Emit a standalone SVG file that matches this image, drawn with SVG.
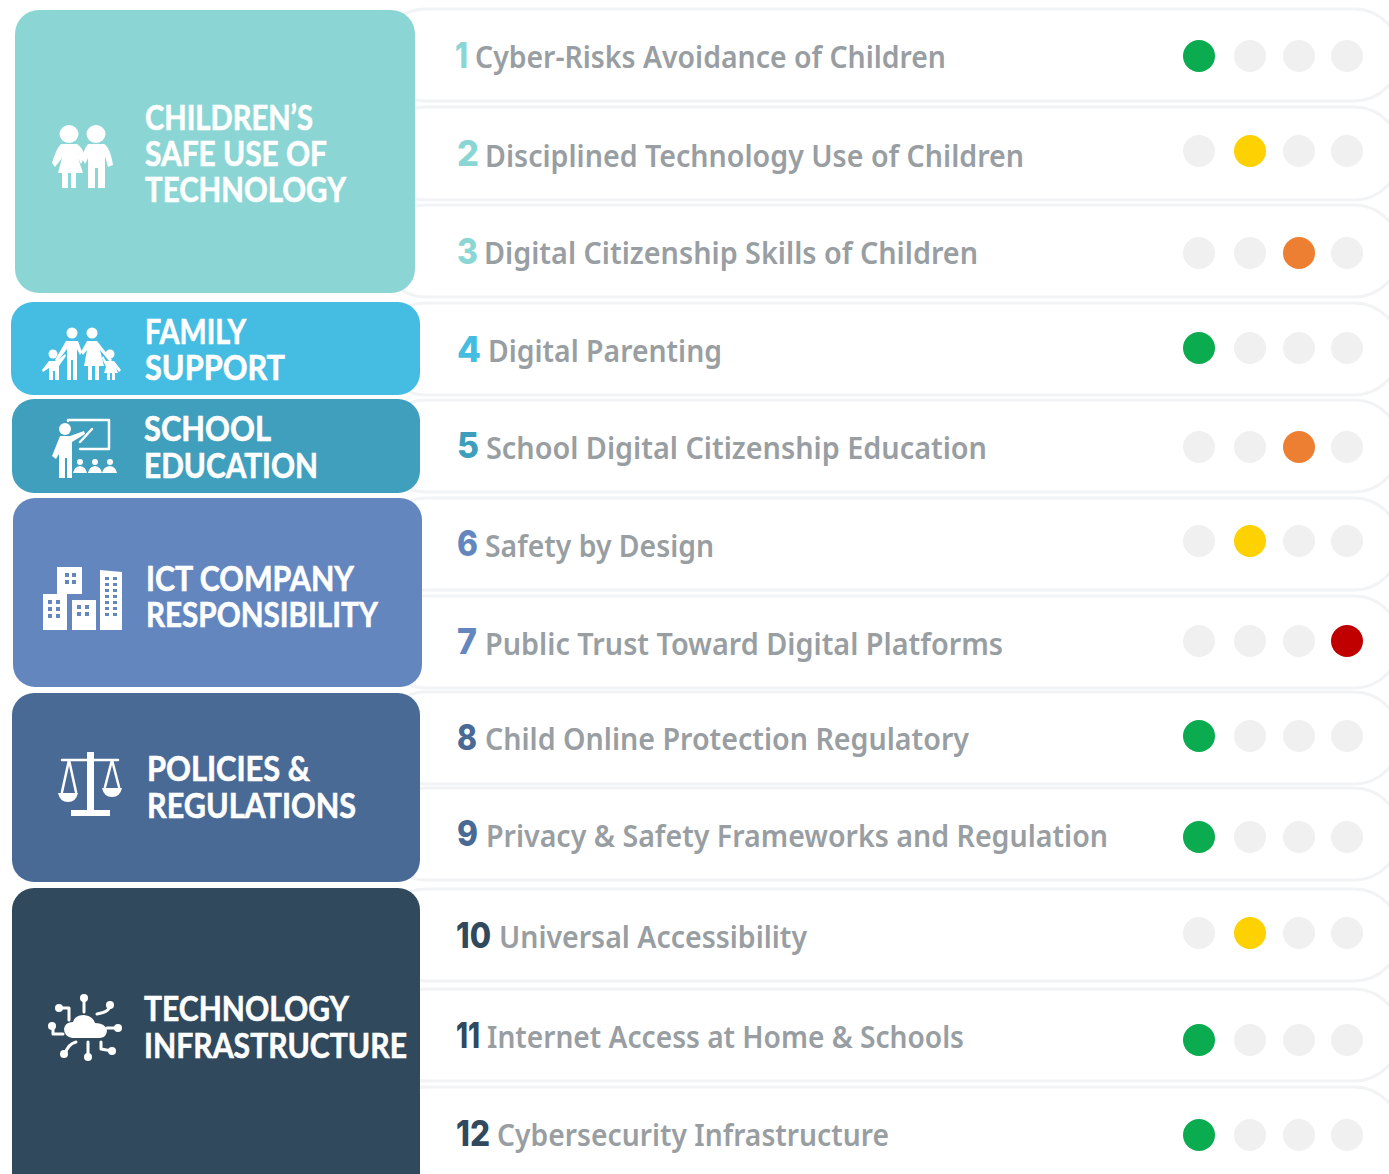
<svg xmlns="http://www.w3.org/2000/svg" width="1389" height="1174" viewBox="0 0 1389 1174">
<style>
.row{fill:#fff;stroke:#f2f3f5;stroke-width:3}
.t{font-family:"Noto Sans","Open Sans",sans-serif;font-size:30px;font-weight:600;fill:#989ea2}
.n{font-family:"Inter","Noto Sans",sans-serif;font-size:35px;font-weight:800}
.c{font-family:"Lato","Liberation Sans",sans-serif;font-size:34px;font-weight:700;fill:#fff;stroke:#fff;stroke-width:.6}
.i{fill:#fff}
.il{fill:none;stroke:#fff;stroke-linecap:round;stroke-linejoin:round}
.off{fill:#f0f0f0}.g{fill:#0bab50}.y{fill:#fed102}.o{fill:#ed7f33}.r{fill:#c00000}
</style>
<rect width="1389" height="1174" fill="#fff"/>
<g id="connectors"></g>
<g id="rows">
<rect class="row" x="380" y="9" width="1020" height="92" rx="46"/>
<rect class="row" x="380" y="107" width="1020" height="93" rx="46"/>
<rect class="row" x="380" y="205" width="1020" height="92" rx="46"/>
<rect class="row" x="380" y="303" width="1020" height="92" rx="46"/>
<rect class="row" x="380" y="400" width="1020" height="92" rx="46"/>
<rect class="row" x="380" y="498" width="1020" height="92" rx="46"/>
<rect class="row" x="380" y="596" width="1020" height="92" rx="46"/>
<rect class="row" x="380" y="692" width="1020" height="92" rx="46"/>
<rect class="row" x="380" y="788" width="1020" height="92" rx="46"/>
<rect class="row" x="380" y="889" width="1020" height="92" rx="46"/>
<rect class="row" x="380" y="989" width="1020" height="92" rx="46"/>
<rect class="row" x="380" y="1087" width="1020" height="130" rx="46"/>
</g>
<g id="item-1"><text class="n" x="455" y="68" fill="#8ad6d4" textLength="13" lengthAdjust="spacingAndGlyphs">1</text><text class="t" x="475" y="68" textLength="471" lengthAdjust="spacingAndGlyphs">Cyber-Risks Avoidance of Children</text><circle class="g" cx="1199" cy="56" r="16"/><circle class="off" cx="1250" cy="56" r="16"/><circle class="off" cx="1299" cy="56" r="16"/><circle class="off" cx="1347" cy="56" r="16"/></g>
<g id="item-2"><text class="n" x="457" y="166" fill="#8ad6d4" textLength="22" lengthAdjust="spacingAndGlyphs">2</text><text class="t" x="485" y="167" textLength="539" lengthAdjust="spacingAndGlyphs">Disciplined Technology Use of Children</text><circle class="off" cx="1199" cy="151" r="16"/><circle class="y" cx="1250" cy="151" r="16"/><circle class="off" cx="1299" cy="151" r="16"/><circle class="off" cx="1347" cy="151" r="16"/></g>
<g id="item-3"><text class="n" x="457" y="264" fill="#8ad6d4" textLength="21" lengthAdjust="spacingAndGlyphs">3</text><text class="t" x="484" y="264" textLength="494" lengthAdjust="spacingAndGlyphs">Digital Citizenship Skills of Children</text><circle class="off" cx="1199" cy="253" r="16"/><circle class="off" cx="1250" cy="253" r="16"/><circle class="o" cx="1299" cy="253" r="16"/><circle class="off" cx="1347" cy="253" r="16"/></g>
<g id="item-4"><text class="n" x="457" y="362" fill="#45bde0" textLength="24" lengthAdjust="spacingAndGlyphs">4</text><text class="t" x="488" y="362" textLength="234" lengthAdjust="spacingAndGlyphs">Digital Parenting</text><circle class="g" cx="1199" cy="348" r="16"/><circle class="off" cx="1250" cy="348" r="16"/><circle class="off" cx="1299" cy="348" r="16"/><circle class="off" cx="1347" cy="348" r="16"/></g>
<g id="item-5"><text class="n" x="457" y="458" fill="#3d9fbc" textLength="22" lengthAdjust="spacingAndGlyphs">5</text><text class="t" x="486" y="459" textLength="501" lengthAdjust="spacingAndGlyphs">School Digital Citizenship Education</text><circle class="off" cx="1199" cy="447" r="16"/><circle class="off" cx="1250" cy="447" r="16"/><circle class="o" cx="1299" cy="447" r="16"/><circle class="off" cx="1347" cy="447" r="16"/></g>
<g id="item-6"><text class="n" x="457" y="556" fill="#6486bf" textLength="21" lengthAdjust="spacingAndGlyphs">6</text><text class="t" x="485" y="557" textLength="229" lengthAdjust="spacingAndGlyphs">Safety by Design</text><circle class="off" cx="1199" cy="541" r="16"/><circle class="y" cx="1250" cy="541" r="16"/><circle class="off" cx="1299" cy="541" r="16"/><circle class="off" cx="1347" cy="541" r="16"/></g>
<g id="item-7"><text class="n" x="457" y="654" fill="#6486bf" textLength="20" lengthAdjust="spacingAndGlyphs">7</text><text class="t" x="485" y="655" textLength="518" lengthAdjust="spacingAndGlyphs">Public Trust Toward Digital Platforms</text><circle class="off" cx="1199" cy="641" r="16"/><circle class="off" cx="1250" cy="641" r="16"/><circle class="off" cx="1299" cy="641" r="16"/><circle class="r" cx="1347" cy="641" r="16"/></g>
<g id="item-8"><text class="n" x="457" y="750" fill="#4a6a96" textLength="20" lengthAdjust="spacingAndGlyphs">8</text><text class="t" x="485" y="750" textLength="484" lengthAdjust="spacingAndGlyphs">Child Online Protection Regulatory</text><circle class="g" cx="1199" cy="736" r="16"/><circle class="off" cx="1250" cy="736" r="16"/><circle class="off" cx="1299" cy="736" r="16"/><circle class="off" cx="1347" cy="736" r="16"/></g>
<g id="item-9"><text class="n" x="457" y="846" fill="#4a6a96" textLength="21" lengthAdjust="spacingAndGlyphs">9</text><text class="t" x="486" y="847" textLength="622" lengthAdjust="spacingAndGlyphs">Privacy &amp; Safety Frameworks and Regulation</text><circle class="g" cx="1199" cy="837" r="16"/><circle class="off" cx="1250" cy="837" r="16"/><circle class="off" cx="1299" cy="837" r="16"/><circle class="off" cx="1347" cy="837" r="16"/></g>
<g id="item-10"><text class="n" x="456" y="948" fill="#30495c" textLength="35" lengthAdjust="spacingAndGlyphs">10</text><text class="t" x="499" y="948" textLength="308" lengthAdjust="spacingAndGlyphs">Universal Accessibility</text><circle class="off" cx="1199" cy="933" r="16"/><circle class="y" cx="1250" cy="933" r="16"/><circle class="off" cx="1299" cy="933" r="16"/><circle class="off" cx="1347" cy="933" r="16"/></g>
<g id="item-11"><text class="n" x="456" y="1048" fill="#30495c" textLength="24" lengthAdjust="spacingAndGlyphs">11</text><text class="t" x="487" y="1048" textLength="477" lengthAdjust="spacingAndGlyphs">Internet Access at Home &amp; Schools</text><circle class="g" cx="1199" cy="1040" r="16"/><circle class="off" cx="1250" cy="1040" r="16"/><circle class="off" cx="1299" cy="1040" r="16"/><circle class="off" cx="1347" cy="1040" r="16"/></g>
<g id="item-12"><text class="n" x="456" y="1146" fill="#30495c" textLength="34" lengthAdjust="spacingAndGlyphs">12</text><text class="t" x="497" y="1146" textLength="392" lengthAdjust="spacingAndGlyphs">Cybersecurity Infrastructure</text><circle class="g" cx="1199" cy="1135" r="16"/><circle class="off" cx="1250" cy="1135" r="16"/><circle class="off" cx="1299" cy="1135" r="16"/><circle class="off" cx="1347" cy="1135" r="16"/></g>

<g id="cat-children"><rect x="15" y="10" width="400" height="283" rx="24" fill="#8bd6d4"/>
<ellipse class="i" cx="69" cy="134" rx="9.5" ry="9"/><ellipse class="i" cx="96" cy="134" rx="9.5" ry="9"/>
<path class="i" d="M61 144H77Q82 147 85 156L81 164 78 158 83 173H76V188H71V173H68V188H62V173H58L62 158 55 167 52 163Q56 149 61 144Z"/>
<path class="i" d="M88 144H104Q110 147 113 165L108 167 105 156V188H98V168H95V188H88V158L85 164 82 158Q84 149 88 144Z"/>
<text class="c" x="145" y="130" textLength="168" lengthAdjust="spacingAndGlyphs">CHILDREN’S</text><text class="c" x="145" y="166" textLength="182" lengthAdjust="spacingAndGlyphs">SAFE USE OF</text><text class="c" x="145" y="202" textLength="201" lengthAdjust="spacingAndGlyphs">TECHNOLOGY</text></g>

<g id="cat-family"><rect x="11" y="302" width="409" height="93" rx="22" fill="#45bde2"/>
<circle class="i" cx="72" cy="333" r="5.5"/><circle class="i" cx="92" cy="333" r="5.5"/><circle class="i" cx="53" cy="354" r="4.5"/><circle class="i" cx="110" cy="354" r="4.5"/>
<path class="i" d="M66 341H78L82 352 80 355 77 349V380H73V360H71V380H67V349L57 362 55 360Z"/>
<path class="i" d="M87 341H97L112 360 110 362 100 350 104 366H99V380H95V366H92V380H88V366H84L87 350 83 355 81 352Z"/>
<path class="i" d="M49 361H57L65 354 66 356 59 366V380H55V371H53V380H49V368L43 372 42 370Z"/>
<path class="i" d="M106 361H114L121 370 119 372 116 368 118 373H115V380H112V373H110V380H107V373H104L106 367 102 358 103 356Z"/>
<text class="c" x="145" y="344" textLength="101" lengthAdjust="spacingAndGlyphs">FAMILY</text><text class="c" x="145" y="380" textLength="140" lengthAdjust="spacingAndGlyphs">SUPPORT</text></g>

<g id="cat-school"><rect x="12" y="399" width="408" height="94" rx="22" fill="#3f9fbd"/>
<circle class="i" cx="65" cy="429" r="6"/>
<path class="il" stroke-width="2.5" d="M68 421V420H109V449H80M80 442L92 429"/>
<path class="i" d="M60 436H70L84 431 85 434 72 442V478H67V458H65V478H59V454L56 459 52 456Z"/>
<path class="i" d="M73 473Q74 467 80 466 86 467 87 473ZM88 473Q89 467 95 466 101 467 102 473ZM102 473Q103 467 110 466 116 467 117 473Z"/><circle class="i" cx="80" cy="462" r="3"/><circle class="i" cx="95" cy="462" r="3"/><circle class="i" cx="110" cy="462" r="3"/>
<text class="c" x="144" y="441" textLength="127" lengthAdjust="spacingAndGlyphs">SCHOOL</text><text class="c" x="144" y="478" textLength="174" lengthAdjust="spacingAndGlyphs">EDUCATION</text></g>

<g id="cat-ict"><rect x="13" y="498" width="409" height="189" rx="22" fill="#6486bf"/>
<path class="i" fill-rule="evenodd" d="M57 567H82V594H57ZM65 573v4h4v-4zM72 573v4h4v-4zM65 580v4h4v-4zM72 580v4h4v-4zM43 594H67V630H43ZM48 600v4h4v-4zM56 600v4h4v-4zM48 607v4h4v-4zM56 607v4h4v-4zM48 614v4h4v-4zM56 614v4h4v-4zM72 600H96V630H72ZM77 605v4h4v-4zM85 605v4h4v-4zM77 612v4h4v-4zM85 612v4h4v-4zM100 570 122 572V630H100ZM105 577v3h4v-3zM113 577v3h4v-3zM105 583v3h4v-3zM113 583v3h4v-3zM105 589v3h4v-3zM113 589v3h4v-3zM105 595v3h4v-3zM113 595v3h4v-3zM105 601v3h4v-3zM113 601v3h4v-3zM105 607v3h4v-3zM113 607v3h4v-3zM105 613v3h4v-3zM113 613v3h4v-3z"/>
<text class="c" x="146" y="591" textLength="208" lengthAdjust="spacingAndGlyphs">ICT COMPANY</text><text class="c" x="146" y="627" textLength="232" lengthAdjust="spacingAndGlyphs">RESPONSIBILITY</text></g>

<g id="cat-policies"><rect x="12" y="693" width="408" height="189" rx="22" fill="#4a6a96"/>
<path class="il" stroke-width="2.5" d="M62 760H118M69 760L62 792M69 760L76 792M112 760L105 787M112 760L119 787"/>
<path class="i" d="M87 752H94V810H110V816H71V810H87Z"/>
<path class="i" d="M58 793H78Q76 802 68 802 60 802 58 793ZM102 788H122Q120 797 112 797 104 797 102 788Z"/>
<text class="c" x="147" y="781" textLength="163" lengthAdjust="spacingAndGlyphs">POLICIES &amp;</text><text class="c" x="147" y="818" textLength="209" lengthAdjust="spacingAndGlyphs">REGULATIONS</text></g>

<g id="cat-infra"><rect x="12" y="888" width="408" height="310" rx="22" fill="#30495c"/>
<path class="i" d="M72 1038Q64 1036 64 1029 65 1022 73 1022 75 1015 84 1015 93 1016 95 1023 105 1023 107 1030 107 1037 100 1038Z"/>
<path class="il" stroke-width="3" d="M84 1000V1012M60 1008H69V1020M110 1005Q110 1012 97 1014M53 1026V1034H63M118 1028H107M65 1054Q68 1044 76 1042M88 1057V1042M101 1042V1049L112 1051"/>
<g class="i"><circle cx="84" cy="998" r="4"/><circle cx="59" cy="1008" r="4"/><circle cx="110" cy="1005" r="4"/><circle cx="52" cy="1026" r="4"/><circle cx="118" cy="1028" r="4"/><circle cx="64" cy="1054" r="4"/><circle cx="88" cy="1057" r="4"/><circle cx="112" cy="1051" r="4"/></g>
<text class="c" x="144" y="1021" textLength="205" lengthAdjust="spacingAndGlyphs">TECHNOLOGY</text><text class="c" x="144" y="1058" textLength="263" lengthAdjust="spacingAndGlyphs">INFRASTRUCTURE</text></g>
</svg>
